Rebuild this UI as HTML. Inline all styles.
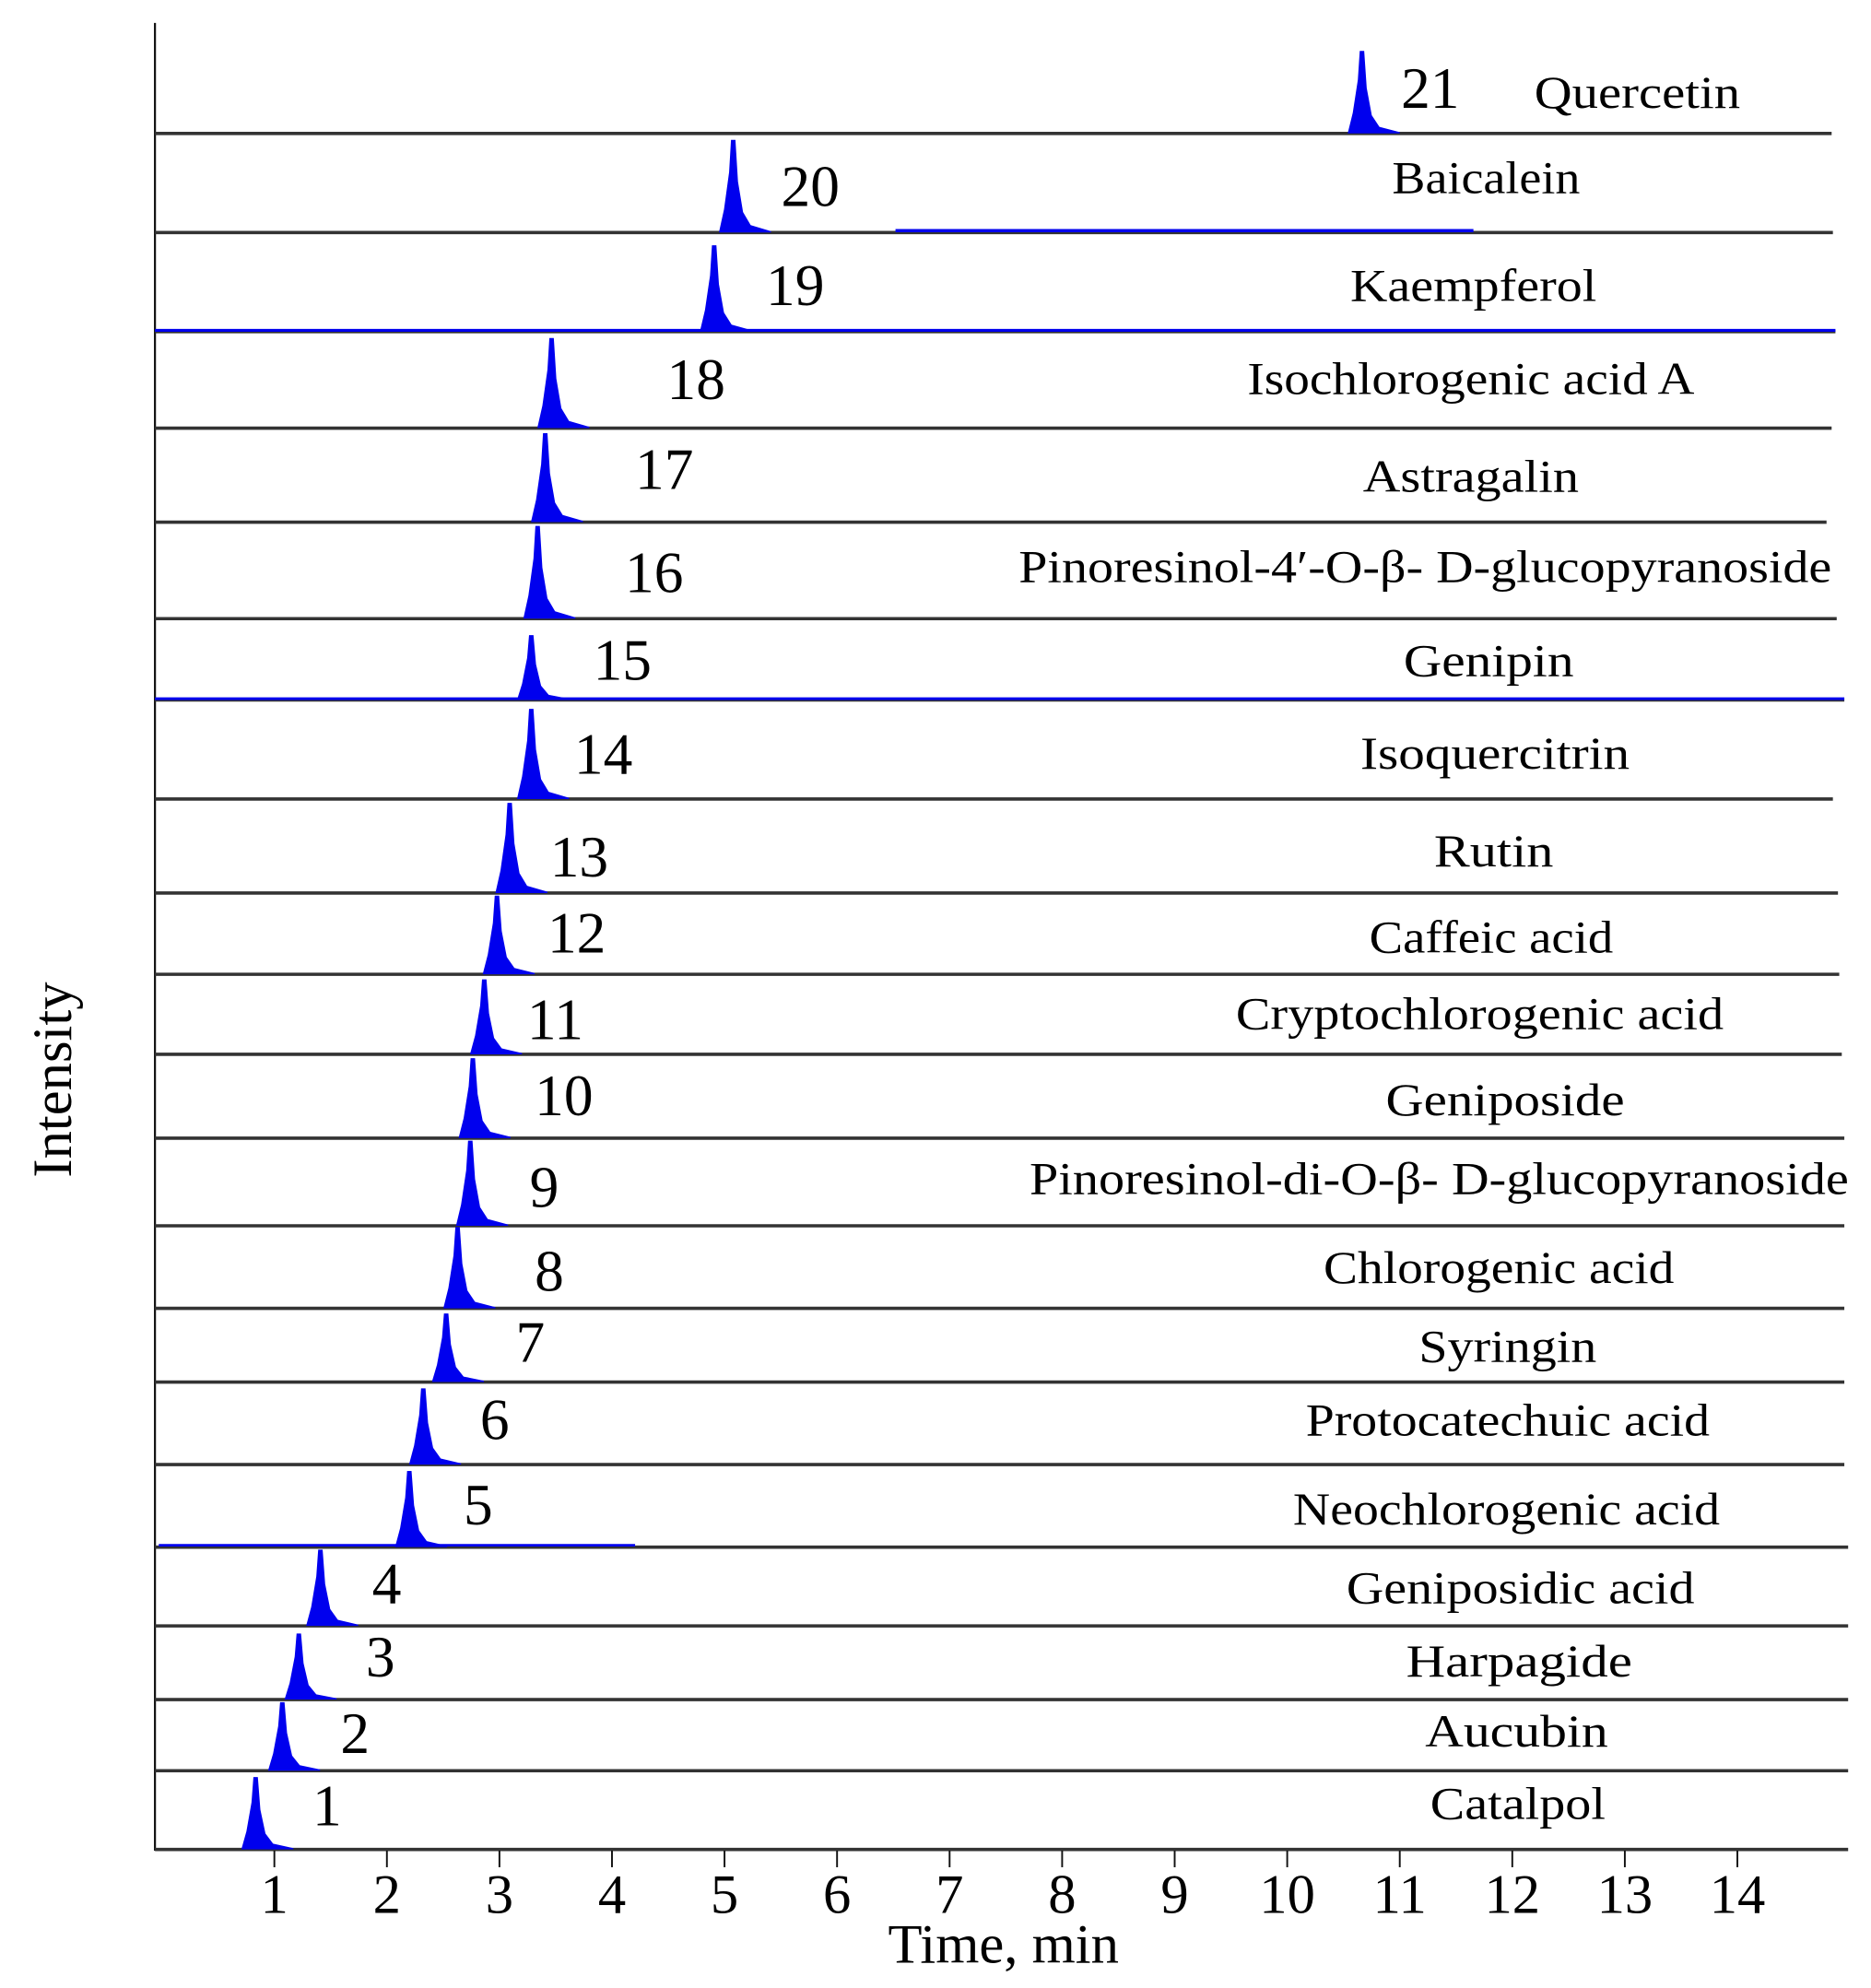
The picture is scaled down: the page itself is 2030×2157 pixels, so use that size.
<!DOCTYPE html>
<html><head><meta charset="utf-8"><style>html,body{margin:0;padding:0;background:#fff}svg{display:block}</style></head>
<body>
<svg width="2030" height="2157" viewBox="0 0 1473 1565" xmlns="http://www.w3.org/2000/svg" font-family="'Liberation Serif', serif">
<rect width="1473" height="1565" fill="#fff"/>
<line x1="122" y1="18" x2="122" y2="1457" stroke="#111" stroke-width="1.6"/>
<g id="panels"></g>
<g stroke="#111" stroke-width="1.4" id="ticks"></g>
<g font-size="44" text-anchor="middle" fill="#000" id="tl"></g>
<text x="790" y="1545" font-size="44" text-anchor="middle">Time, min</text>
<text transform="translate(56,850) rotate(-90)" font-size="44" text-anchor="middle">Intensity</text>
<script>
const NS="http://www.w3.org/2000/svg";
function el(p,t,a,txt){const e=document.createElementNS(NS,t);for(const k in a)e.setAttribute(k,a[k]);if(txt!==undefined)e.textContent=txt;p.appendChild(e);return e;}
const P=document.getElementById('panels');
const data=[
[21,1072,40,105,1103,85,"Quercetin",1289,85,1442,0],
[20,577,110,183,615,162,"Baicalein",1170,152,1443,0],
[19,562,193,261,603,240,"Kaempferol",1160,237,1445,1],
[18,434,266,337,525,314,"Isochlorogenic acid A",1158,310,1442,0],
[17,429,341,411,500,385,"Astragalin",1158,387,1438,0],
[16,423,414,487,492,466,"Pinoresinol-4\u2032-O-\u03b2- D-glucopyranoside",1122,458,1446,0],
[15,418,500,551,467,535,"Genipin",1172,532,1452,1],
[14,418,558,629,452,609,"Isoquercitrin",1177,605,1443,0],
[13,401,632,703,433,690,"Rutin",1176,682,1447,0],
[12,391,705,767,431,750,"Caffeic acid",1174,750,1448,0],
[11,381,771,830,415,818,"Cryptochlorogenic acid",1165,810,1450,0],
[10,372,833,896,421,878,"Geniposide",1185,878,1452,0],
[9,370,898,965,417,950,"Pinoresinol-di-O-\u03b2- D-glucopyranoside",1133,940,1452,0],
[8,360,966,1030,421,1016,"Chlorogenic acid",1180,1010,1452,0],
[7,351,1034,1088,406,1072,"Syringin",1187,1072,1452,0],
[6,333,1093,1153,378,1133,"Protocatechuic acid",1187,1130,1452,0],
[5,322,1158,1218,365,1200,"Neochlorogenic acid",1186,1200,1455,0],
[4,252,1220,1280,293,1262,"Geniposidic acid",1197,1262,1455,0],
[3,235,1286,1338,288,1320,"Harpagide",1196,1320,1455,0],
[2,222,1340,1394,268,1380,"Aucubin",1194,1375,1455,0],
[1,201,1399,1456,246,1437,"Catalpol",1195,1432,1455,0]];
const widths={"Quercetin":162,"Baicalein":148,"Kaempferol":194,"Isochlorogenic acid A":352,"Astragalin":170,"Genipin":134,"Isoquercitrin":212,"Rutin":94,"Caffeic acid":192,"Cryptochlorogenic acid":384,"Geniposide":188,"Chlorogenic acid":276,"Syringin":140,"Protocatechuic acid":318,"Neochlorogenic acid":336,"Geniposidic acid":274,"Harpagide":178,"Aucubin":144,"Catalpol":138};
for(const d of data){
 const [n,x,top,b,nx,ny,name,cx,cy,re,blue]=d;
 const h=b-top;
 el(P,'line',{x1:122,y1:b,x2:re,y2:b,stroke:'#333',"stroke-width":2.6});
 if(blue) el(P,'line',{x1:122,y1:b-1,x2:re,y2:b-1,stroke:'#0000ee',"stroke-width":2.2});
 if(n==20) el(P,'line',{x1:705,y1:b-1.5,x2:1160,y2:b-1.5,stroke:'#0000ee',"stroke-width":2.5});
 if(n==5) el(P,'line',{x1:125,y1:b-1.5,x2:500,y2:b-1.5,stroke:'#0000ee',"stroke-width":2});
 el(P,'path',{d:`M${x-11},${b} L${x-7},${b-h*0.25} L${x-3},${b-h*0.65} L${x-1.5},${top} L${x+2},${top} L${x+4},${b-h*0.55} L${x+8},${b-h*0.22} L${x+14},${b-h*0.08} L${x+30},${b-1} L${x+30},${b} Z`,fill:'#0000ee'});
 el(P,'text',{x:nx,y:ny,"font-size":46},String(n));
 const a={x:cx,y:cy,"font-size":36,"text-anchor":"middle"};
 if(widths[name]){a.textLength=widths[name];a.lengthAdjust="spacingAndGlyphs";}
 else {a.textLength=(n==16?640:645);a.lengthAdjust="spacingAndGlyphs";}
 el(P,'text',a,name);
}
const T=document.getElementById('ticks'),L=document.getElementById('tl');
for(let t=1;t<=14;t++){const x=216+(t-1)*88.6;el(T,'line',{x1:x,y1:1457,x2:x,y2:1470});el(L,'text',{x:x,y:1506},String(t));}
</script>
</svg>
</body></html>
